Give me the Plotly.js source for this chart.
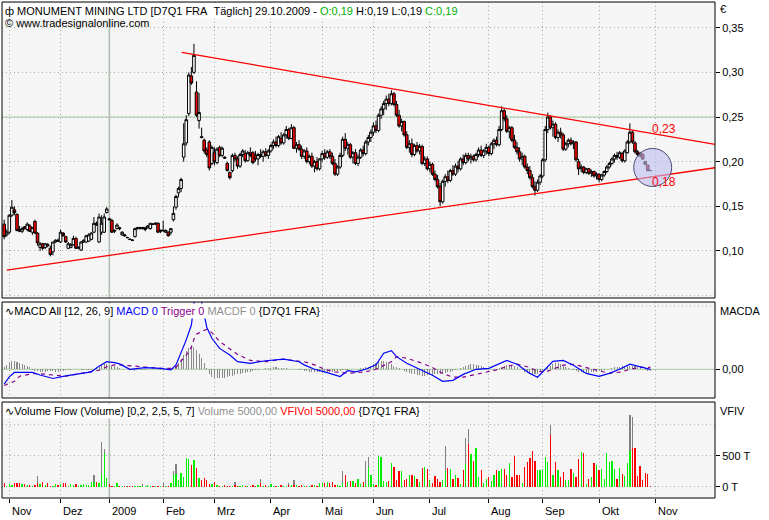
<!DOCTYPE html>
<html><head><meta charset="utf-8">
<script src="https://cdn.plot.ly/plotly-3.0.1.min.js"></script>
<style>html,body{margin:0;padding:0;background:#fff;}#chart{width:769px;height:520px;}</style>
</head><body><div id="chart"></div><script>
// ---- data (trading-day index, 0 = first trading day of Nov 2008) ----
const firstDay = -2;
const open = [.130,.118,.121,.140,.146,.141,.124,.122,.127,.124,
.128,.121,.133,.120,.104,.108,.104,.107,.103,.099,
.110,.112,.110,.120,.116,.103,.104,.107,.114,.103,
.101,.110,.110,.111,.113,.121,.131,.110,.121,.121,
.143,.136,.134,.122,.125,.126,.118,.118,.115,.113,
.112,.116,.125,.125,.125,.124,.126,.125,.130,.130,
.131,.122,.123,.121,.121,.121,.135,.149,.165,.170,
.205,.221,.254,.296,.300,.278,.246,.228,.224,.213,
.222,.198,.210,.199,.216,.207,.205,.198,.188,.190,
.207,.203,.195,.208,.209,.201,.210,.210,.207,.203,
.208,.206,.211,.207,.212,.218,.222,.218,.226,.221,
.230,.236,.226,.238,.215,.219,.214,.206,.212,.200,
.206,.195,.200,.192,.203,.209,.205,.211,.206,.198,
.186,.194,.207,.225,.215,.219,.205,.210,.198,.205,
.213,.209,.222,.227,.233,.240,.235,.252,.259,.265,
.270,.265,.276,.264,.252,.240,.245,.230,.216,.220,
.208,.218,.212,.217,.198,.203,.192,.197,.186,.180,
.172,.155,.178,.183,.179,.190,.186,.195,.192,.203,
.199,.207,.203,.206,.202,.208,.213,.207,.212,.216,
.209,.220,.224,.219,.236,.257,.248,.234,.238,.224,
.216,.211,.203,.206,.194,.190,.182,.172,.168,.177,
.184,.202,.236,.250,.238,.242,.227,.233,.230,.214,
.220,.224,.220,.222,.200,.192,.194,.188,.192,.187,
.189,.184,.186,.180,.185,.189,.194,.198,.203,.207,
.205,.209,.201,.210,.222,.233,.221,.211,.209,.208,
.200,.196,.190];
const high = [.135,.124,.141,.157,.150,.142,.128,.127,.128,.132,
.130,.127,.135,.121,.110,.109,.109,.109,.106,.110,
.113,.114,.124,.121,.117,.110,.109,.117,.116,.105,
.111,.113,.118,.120,.121,.138,.133,.142,.140,.142,
.149,.137,.136,.124,.131,.127,.122,.119,.116,.114,
.113,.126,.127,.127,.127,.127,.129,.131,.131,.132,
.132,.124,.134,.124,.122,.125,.150,.163,.172,.182,
.243,.252,.300,.306,.332,.290,.277,.238,.226,.216,
.224,.218,.216,.216,.218,.217,.206,.200,.189,.209,
.210,.206,.210,.214,.213,.212,.216,.212,.212,.210,
.214,.213,.215,.214,.220,.225,.228,.230,.233,.232,
.240,.238,.242,.240,.222,.224,.218,.214,.216,.208,
.210,.202,.205,.204,.212,.214,.213,.214,.210,.203,
.196,.210,.228,.232,.222,.221,.212,.214,.208,.215,
.218,.224,.230,.236,.244,.246,.254,.262,.268,.274,
.276,.280,.278,.268,.258,.248,.246,.234,.224,.226,
.220,.222,.220,.219,.206,.206,.200,.199,.190,.185,
.176,.180,.186,.190,.192,.196,.198,.201,.205,.208,
.210,.210,.209,.208,.210,.216,.218,.214,.220,.218,
.222,.226,.228,.240,.262,.260,.252,.240,.240,.230,
.222,.216,.210,.208,.198,.195,.186,.178,.180,.186,
.204,.240,.255,.252,.246,.244,.236,.238,.232,.222,
.226,.227,.224,.223,.203,.197,.195,.193,.193,.191,
.190,.188,.187,.186,.190,.196,.200,.205,.209,.211,
.212,.211,.214,.224,.243,.235,.223,.213,.211,.210,
.201,.197,.190];
const low = [.113,.116,.119,.138,.140,.122,.121,.120,.124,.122,
.121,.118,.119,.106,.100,.101,.102,.104,.094,.095,
.109,.110,.109,.116,.109,.102,.103,.106,.102,.102,
.100,.109,.109,.110,.112,.120,.128,.109,.118,.120,
.142,.134,.120,.120,.124,.123,.117,.116,.114,.112,
.111,.115,.124,.124,.124,.122,.125,.124,.129,.129,
.120,.120,.121,.120,.116,.118,.133,.146,.160,.166,
.200,.218,.251,.286,.298,.250,.237,.226,.209,.205,
.190,.196,.196,.197,.205,.205,.203,.189,.180,.188,
.200,.192,.193,.205,.199,.200,.205,.197,.200,.196,
.204,.200,.205,.203,.210,.214,.216,.216,.219,.219,
.226,.224,.225,.214,.210,.212,.203,.203,.198,.197,
.193,.188,.190,.190,.200,.202,.203,.203,.196,.184,
.184,.192,.205,.212,.208,.203,.198,.196,.195,.203,
.206,.207,.218,.222,.229,.232,.233,.248,.252,.258,
.262,.263,.262,.250,.238,.234,.228,.214,.210,.205,
.206,.210,.208,.196,.195,.190,.188,.184,.178,.170,
.150,.153,.172,.176,.177,.184,.184,.188,.190,.196,
.197,.200,.198,.200,.200,.205,.205,.204,.208,.206,
.207,.214,.217,.217,.234,.245,.232,.226,.222,.214,
.208,.200,.196,.192,.186,.180,.170,.162,.166,.174,
.182,.200,.232,.236,.228,.225,.222,.226,.212,.212,
.216,.218,.214,.200,.185,.188,.186,.186,.185,.183,
.182,.180,.177,.178,.183,.187,.192,.196,.199,.202,
.203,.199,.199,.209,.220,.220,.209,.206,.205,.202,
.196,.189,.190];
const close = [.116,.121,.140,.149,.143,.123,.122,.125,.125,.130,
.122,.126,.120,.109,.108,.103,.108,.106,.096,.110,
.112,.111,.121,.117,.110,.108,.107,.114,.103,.104,
.110,.112,.117,.118,.120,.131,.129,.138,.131,.138,
.147,.135,.121,.123,.129,.125,.121,.117,.115,.113,
.112,.125,.126,.126,.126,.126,.128,.131,.130,.131,
.121,.123,.123,.123,.117,.125,.142,.161,.170,.180,
.220,.247,.297,.288,.319,.252,.255,.227,.212,.208,
.193,.216,.200,.214,.207,.215,.204,.190,.182,.207,
.203,.195,.208,.212,.201,.210,.207,.199,.203,.208,
.206,.211,.207,.212,.218,.222,.218,.228,.221,.230,
.236,.226,.238,.215,.219,.214,.206,.212,.200,.206,
.195,.200,.192,.203,.209,.205,.211,.206,.198,.186,
.194,.207,.225,.215,.219,.205,.210,.198,.205,.213,
.209,.222,.227,.233,.240,.235,.252,.259,.265,.270,
.265,.276,.264,.252,.240,.245,.230,.216,.220,.208,
.218,.212,.217,.198,.203,.192,.197,.186,.180,.172,
.155,.178,.183,.179,.190,.186,.195,.192,.203,.199,
.207,.203,.206,.202,.208,.213,.207,.212,.216,.209,
.220,.224,.219,.236,.257,.248,.234,.238,.224,.216,
.211,.203,.206,.194,.190,.182,.172,.168,.177,.184,
.202,.236,.250,.238,.242,.227,.233,.230,.214,.220,
.224,.220,.222,.202,.192,.194,.188,.192,.187,.189,
.184,.186,.180,.185,.189,.194,.198,.203,.207,.205,
.210,.201,.212,.222,.233,.222,.211,.208,.206,.203,
.197,.190,.190];
// MACD (x 1e-4 EUR)
const macdIdx = [-2,0,2,4,9,12,17,22,28,32,35,38,41,43,47,53,59,63,65,67,69,71,72,73,75,77,79,82,86,89,94,100,107,113,115,119,123,127,129,132,135,139,143,146,149,151,155,160,165,169,173,177,182,187,191,194,198,203,206,209,212,216,220,225,230,234,238,242,246,250];
const macd = [-47,-24,-10,-10,-10,-18,-29,-21,-13,-8,10,24,21,17,0,5,3,-2,14,51,93,140,237,269,212,133,98,66,45,24,19,27,32,24,14,0,-8,-18,-23,-4,-8,0,14,51,59,40,19,0,-19,-38,-35,-16,0,3,16,28,16,-13,-25,0,25,28,13,-13,-22,-13,0,16,9,0];
const trigger = [-51,-45,-38,-22,-14,-14,-17,-22,-13,-8,-3,8,14,14,11,6,3,3,6,27,44,70,95,111,120,126,116,88,63,47,28,24,32,27,24,14,0,-8,-9,-13,-11,-8,0,13,24,40,35,22,6,-13,-25,-25,-16,-6,0,9,16,6,-6,-9,0,13,16,6,-6,-13,-9,0,6,6];
const macdHist = [6,13,19,27,25,22,19,16,13,9,6,
-2,-4,-6,-8,-8,-7,-6,-5,-6,-8,-7,-6,-4,-3,-2,-1,1,2,1,-1,-2,-3,-2,-1,2,
6,10,14,16,17,15,12,9,6,4,2,1,0,
-2,-3,-4,-3,-2,-2,-1,0,1,1,0,-1,-1,0,1,0,-1,
3,10,20,32,45,57,66,74,70,60,48,35,20,5,
-15,-24,-27,-28,-28,-27,-26,-25,-22,-20,-18,-16,-14,-13,-11,-9,-7,-5,-3,-1,
1,2,3,4,5,6,6,5,4,3,3,2,2,1,0,-1,-2,
-4,-6,-7,-8,-9,-10,-10,-11,-10,-9,-8,-7,-6,-5,-4,-3,-2,-1,
0,1,2,2,3,4,6,8,
12,16,20,24,25,25,23,20,16,12,8,4,
0,-4,-8,-11,-14,-16,-18,-19,-20,-20,-19,-18,-17,-16,-15,-15,-14,-12,-10,-8,
-5,-2,2,5,8,11,14,16,16,15,13,10,7,4,2,0,-1,0,
3,7,11,14,15,13,10,6,
2,-3,-7,-11,-14,-16,-16,-14,-10,-5,
0,6,12,17,20,19,16,12,8,4,1,-2,
-5,-8,-10,-12,-12,-11,-10,-9,-8,-6,-4,-2,
0,2,4,6,7,8,9,10,11,12,11,9,6,
3,0,-2,-4,-5];
// Volume flow (thousands)
const volume = [65,16,43,27,65,65,54,43,43,27,
27,16,32,172,38,70,21,54,16,16,
43,27,43,54,54,16,43,21,43,16,
32,43,32,27,75,188,80,65,720,608,
145,43,16,16,65,16,16,16,16,16,
16,16,16,16,43,16,27,16,16,16,
16,16,65,16,10,65,258,360,108,226,
161,468,441,349,430,306,140,107,134,107,
43,43,80,27,16,16,21,16,10,16,
80,16,16,21,10,16,16,27,16,21,
124,16,21,16,43,16,16,16,21,10,
16,65,27,108,21,16,27,16,16,10,
27,27,16,65,65,65,70,65,75,27,
32,16,253,188,75,85,90,54,129,43,
80,420,473,188,43,27,500,473,89,79,
89,379,316,105,252,247,105,131,184,184,
168,131,79,300,316,279,105,63,168,126,
79,105,658,295,279,121,184,142,42,263,
779,926,521,410,626,158,263,63,131,158,
89,184,263,247,289,279,184,389,158,489,
184,184,63,316,395,458,579,421,263,263,
279,484,395,990,184,405,263,158,237,116,
116,289,221,158,447,552,537,42,121,158,
379,358,274,279,131,537,395,421,279,121,
300,210,174,379,1150,1120,631,168,331,116,
221,210,10];
const vfiVol = [65,16,43,27,65,65,54,43,43,27,
27,16,32,54,38,70,21,54,16,16,
43,27,43,54,54,16,43,21,43,16,
32,43,32,27,75,80,80,65,204,538,
145,43,16,16,65,16,16,16,16,16,
16,16,16,16,16,16,27,16,16,16,
16,16,10,16,10,65,188,199,108,226,
161,468,441,349,430,306,140,107,134,107,
43,43,80,27,16,16,21,16,10,16,
27,16,16,21,10,16,16,27,16,21,
54,16,21,16,43,16,16,16,21,10,
16,21,27,32,21,16,27,16,16,10,
27,27,16,65,65,65,70,65,75,27,
32,16,54,188,75,85,90,54,129,43,
80,38,312,188,43,27,500,473,89,79,
89,379,316,105,252,247,105,131,184,184,
168,131,79,300,316,279,105,63,168,126,
79,105,247,295,279,121,184,142,42,263,
363,695,521,410,626,158,263,63,131,158,
89,184,263,247,289,279,184,389,158,489,
184,184,63,316,395,458,579,421,263,263,
279,484,395,832,184,405,263,158,237,116,
116,289,221,158,447,552,537,42,121,158,
379,358,274,279,131,537,395,421,279,121,
300,210,174,379,579,631,631,168,331,116,
221,210,10];
// axis / annotation values
const monthIdx = [0,20,39,60,80,102,122,142,164,187,208,230,252];
const monthLabels = ['Nov','Dez','2009','Feb','Mrz','Apr','Mai','Jun','Jul','Aug','Sep','Okt','Nov'];
const yearStartIdx = 39;
const priceTicks = [0.10,0.15,0.20,0.25,0.30,0.35];
const priceTickText = ['0,10','0,15','0,20','0,25','0,30','0,35'];
const trendUpperX = [67.2,275.2], trendUpperY = [0.3224,0.2193];
const trendLowerX = [-1.0,275.2], trendLowerY = [0.0784,0.1932];
const levelText = ['0,23','0,18'], levelY = [0.2364,0.177], levelX = 249.9;
const circleCenter = [250.9,0.1935], circleRx = 7.4, circleRy = 0.0213;

// ---- build ----
const idx = open.map((_, k) => firstDay + k);
const volColors = close.map((c, k) => c > open[k] ? '#00ee00' : '#ff0000');
const gridC = '#a3b3a3', gridDash = '1px,3px';
const PX = p => (p - 2) / 713, PY = p => (498 - p) / 496;
const dom1 = [PY(298), 1], dom2 = [PY(398), PY(302)], dom3 = [0, PY(402)];
const xRange = [-2.85, 275.2];

const traces = [
  {type:'candlestick', x:idx, open:open, high:high, low:low, close:close, xaxis:'x', yaxis:'y',
   increasing:{line:{color:'#000000',width:1}, fillcolor:'#ffffff'},
   decreasing:{line:{color:'#000000',width:1}, fillcolor:'#ff0000'},
   whiskerwidth:0, hoverinfo:'skip'},
  {type:'scatter', mode:'lines', x:trendUpperX, y:trendUpperY, xaxis:'x', yaxis:'y', line:{color:'#ff0000',width:1.3}, hoverinfo:'skip'},
  {type:'scatter', mode:'lines', x:trendLowerX, y:trendLowerY, xaxis:'x', yaxis:'y', line:{color:'#ff0000',width:1.3}, hoverinfo:'skip'},
  {type:'bar', x:idx, y:macdHist, xaxis:'x2', yaxis:'y2', width:0.4, marker:{color:'#8a8a8a', line:{width:0}}, hoverinfo:'skip'},
  {type:'scatter', mode:'lines', x:macdIdx, y:trigger, xaxis:'x2', yaxis:'y2', line:{color:'#880088',width:1.2,dash:'4px,4px'}, hoverinfo:'skip'},
  {type:'scatter', mode:'lines', x:macdIdx, y:macd, xaxis:'x2', yaxis:'y2', line:{color:'#0000ff',width:1.2}, hoverinfo:'skip'},
  {type:'bar', x:idx, y:volume, xaxis:'x3', yaxis:'y3', width:0.5, marker:{color:'#808080', line:{width:0}}, hoverinfo:'skip'},
  {type:'bar', x:idx, y:vfiVol, xaxis:'x3', yaxis:'y3', width:0.5, marker:{color:volColors, line:{width:0}}, hoverinfo:'skip'}
];

const xBase = {range:xRange, tickvals:monthIdx, showticklabels:false, showgrid:true, gridcolor:gridC, griddash:gridDash, gridwidth:1, zeroline:false, showline:false, ticks:'', fixedrange:true};
const yBase = {side:'right', ticks:'outside', ticklen:4, tickcolor:'#000', tickwidth:1, zeroline:false, showline:false, tickfont:{size:11, color:'#000'}, fixedrange:true};

const frame = d => ({type:'rect', xref:'paper', yref:'paper', x0:0, x1:1, y0:d[0], y1:d[1], line:{color:'#000',width:1}, fillcolor:'rgba(0,0,0,0)', layer:'above'});
const shapes = [
  {type:'line', xref:'paper', yref:'y', x0:0, x1:1, y0:0.25, y1:0.25, line:{color:'#a6cba0',width:1}, layer:'below'},
  {type:'line', xref:'paper', yref:'y', x0:0, x1:1, y0:0.05, y1:0.05, line:{color:gridC,width:1,dash:gridDash}, layer:'below'},
  {type:'line', xref:'paper', yref:'y2', x0:0, x1:1, y0:0, y1:0, line:{color:'#a6cba0',width:1}, layer:'below'},
  {type:'line', xref:'paper', yref:'y2', x0:0, x1:1, y0:200, y1:200, line:{color:gridC,width:1,dash:gridDash}, layer:'below'},
  {type:'line', xref:'paper', yref:'y3', x0:0, x1:1, y0:1000, y1:1000, line:{color:gridC,width:1,dash:gridDash}, layer:'below'},
  {type:'line', xref:'x', yref:'y domain', x0:yearStartIdx, x1:yearStartIdx, y0:0, y1:1, line:{color:'#b7c2b7',width:1.6}, layer:'below'},
  {type:'line', xref:'x2', yref:'y2 domain', x0:yearStartIdx, x1:yearStartIdx, y0:0, y1:1, line:{color:'#b7c2b7',width:1.6}, layer:'below'},
  {type:'line', xref:'x3', yref:'y3 domain', x0:yearStartIdx, x1:yearStartIdx, y0:0, y1:1, line:{color:'#b7c2b7',width:1.6}, layer:'below'},
  {type:'circle', xref:'x', yref:'y', x0:circleCenter[0]-circleRx, x1:circleCenter[0]+circleRx, y0:circleCenter[1]-circleRy, y1:circleCenter[1]+circleRy,
   fillcolor:'rgba(190,190,240,0.6)', line:{color:'#4a4a78',width:1}, layer:'above'},
  frame(dom1), frame(dom2), frame(dom3)
];

const F = 'Liberation Sans, Arial, DejaVu Sans, sans-serif';
const ann = [
  {xref:'paper', yref:'paper', x:PX(3), y:PY(2.5), xanchor:'left', yanchor:'top', showarrow:false, bgcolor:'#ffffff', borderpad:1,
   text:'ф MONUMENT MINING LTD [D7Q1 FRA\u00a0\u00a0Täglich] 29.10.2009 - <span style="color:#00b000">O:0,19</span> H:0,19 L:0,19 <span style="color:#00b000">C:0,19</span>'},
  {xref:'paper', yref:'paper', x:PX(3), y:PY(15), xanchor:'left', yanchor:'top', showarrow:false, text:'© www.tradesignalonline.com'},
  {xref:'paper', yref:'paper', x:PX(3), y:PY(303), xanchor:'left', yanchor:'top', showarrow:false, bgcolor:'#ffffff', borderpad:1,
   text:'∿MACD All [12, 26, 9] <span style="color:#0000ff">MACD 0</span> <span style="color:#880088">Trigger 0</span> <span style="color:#909090">MACDF 0</span> {D7Q1 FRA}'},
  {xref:'paper', yref:'paper', x:PX(3), y:PY(403), xanchor:'left', yanchor:'top', showarrow:false, bgcolor:'#ffffff', borderpad:1,
   text:'∿Volume Flow (Volume) [0,2, 2,5, 5, 7] <span style="color:#909090">Volume 5000,00</span> <span style="color:#ff0000">VFIVol 5000,00</span> {D7Q1 FRA}'},
  {xref:'paper', yref:'paper', x:PX(718), y:PY(1), xanchor:'left', yanchor:'top', showarrow:false, text:'€'},
  {xref:'paper', yref:'paper', x:PX(718), y:PY(303), xanchor:'left', yanchor:'top', showarrow:false, text:'MACDA'},
  {xref:'paper', yref:'paper', x:PX(718), y:PY(403), xanchor:'left', yanchor:'top', showarrow:false, text:'VFIV'}
];
levelText.forEach((t, k) => ann.push({xref:'x', yref:'y', x:levelX, y:levelY[k], xanchor:'left', yanchor:'middle', showarrow:false, text:t, font:{color:'#ff0000', size:12, family:F}}));
monthLabels.forEach((t, k) => ann.push({xref:'x3', yref:'paper', x:monthIdx[k]+0.2, y:PY(503), xanchor:'left', yanchor:'top', showarrow:false, text:t}));

const layout = {
  width:769, height:520, margin:{l:2, r:54, t:2, b:22, pad:0},
  paper_bgcolor:'#ffffff', plot_bgcolor:'#f5f5f5', showlegend:false,
  barmode:'overlay', boxgap:0, boxgroupgap:0, bargap:0,
  font:{family:F, size:11, color:'#000'},
  xaxis:Object.assign({}, xBase, {anchor:'y', rangeslider:{visible:false}}),
  xaxis2:Object.assign({}, xBase, {anchor:'y2'}),
  xaxis3:Object.assign({}, xBase, {anchor:'y3', ticks:'outside', ticklen:4, tickcolor:'#000', tickwidth:1}),
  yaxis:Object.assign({}, yBase, {domain:dom1, anchor:'x', range:[0.0473,0.3788], tickvals:priceTicks, ticktext:priceTickText, showgrid:true, gridcolor:gridC, griddash:gridDash}),
  yaxis2:Object.assign({}, yBase, {domain:dom2, anchor:'x2', range:[-90.7,212.7], tickvals:[0], ticktext:['0,00'], showgrid:false}),
  yaxis3:Object.assign({}, yBase, {domain:dom3, anchor:'x3', range:[-182,1366], tickvals:[0,500], ticktext:['0 T','500 T'], showgrid:true, gridcolor:gridC, griddash:gridDash}),
  shapes:shapes, annotations:ann
};
Plotly.newPlot('chart', traces, layout, {staticPlot:true, displayModeBar:false});
</script></body></html>
